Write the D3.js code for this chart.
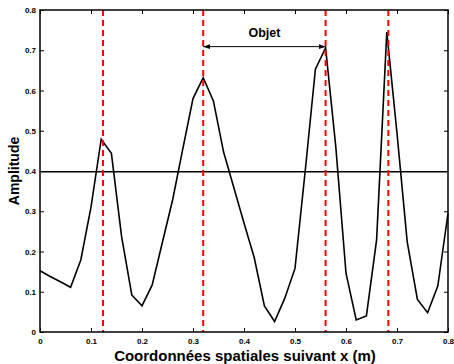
<!DOCTYPE html>
<meta charset="utf-8">
<script src="https://d3js.org/d3.v7.min.js"></script>
<style>
  body { margin: 0; background: #fff; }
  text { font-family: Arial, 'Liberation Sans', sans-serif; font-weight: bold; }
</style>
<div id="chart"></div>
<script>
  // sampled amplitude, one value every 0.02 m
  const xs = d3.range(0, 41).map(i => i * 0.02);
  const amplitude = [0.152, 0.138, 0.125, 0.111, 0.179, 0.31, 0.479, 0.444, 0.237, 0.092,
    0.065, 0.117, 0.223, 0.328, 0.455, 0.58, 0.632, 0.574, 0.447, 0.359,
    0.271, 0.185, 0.065, 0.026, 0.084, 0.158, 0.40, 0.653, 0.706, 0.46,
    0.146, 0.03, 0.04, 0.229, 0.745, 0.494, 0.224, 0.081, 0.048, 0.114, 0.295];
  const peaks = [0.1235, 0.32, 0.56, 0.683];
  const threshold = 0.398;
  const objet = {from: 0.32, to: 0.56, y: 0.709, label: "Objet"};
  const xTicks = [0, 0.1, 0.2, 0.3, 0.4, 0.5, 0.6, 0.7, 0.8];
  const yTicks = [0, 0.1, 0.2, 0.3, 0.4, 0.5, 0.6, 0.7, 0.8];

  const W = 454, H = 364;
  const margin = {top: 10, right: 6, bottom: 32, left: 40};
  const width = W - margin.left - margin.right,
        height = H - margin.top - margin.bottom;

  const svg = d3.select("#chart").append("svg")
      .attr("width", W).attr("height", H);

  svg.append("defs").append("marker")
      .attr("id", "head")
      .attr("viewBox", "0 0 10 10")
      .attr("refX", 10).attr("refY", 5)
      .attr("markerWidth", 7).attr("markerHeight", 7)
      .attr("markerUnits", "userSpaceOnUse")
      .attr("orient", "auto-start-reverse")
      .append("path").attr("d", "M0,1.5L10,5L0,8.5Z").attr("fill", "#000");

  const g = svg.append("g")
      .attr("transform", "translate(" + margin.left + "," + margin.top + ")");

  const x = d3.scaleLinear().domain([0, 0.8]).range([0, width]);
  const y = d3.scaleLinear().domain([0, 0.8]).range([height, 0]);

  // axes with inward ticks, box like matlab
  function styleAxis(sel) {
    sel.select(".domain").remove();
    sel.selectAll(".tick line").attr("stroke", "#000").attr("stroke-width", 1);
    sel.selectAll("text").attr("font-size", 8).attr("fill", "#000");
  }
  g.append("g").attr("transform", "translate(0," + height + ")")
      .call(d3.axisBottom(x).tickValues(xTicks).tickFormat(d3.format("~g")).tickSizeInner(-4).tickPadding(6))
      .call(styleAxis);
  g.append("g")
      .call(d3.axisTop(x).tickValues(xTicks).tickFormat("").tickSizeInner(-4))
      .call(styleAxis);
  g.append("g")
      .call(d3.axisLeft(y).tickValues(yTicks).tickFormat(d3.format("~g")).tickSizeInner(-4).tickPadding(4))
      .call(styleAxis);
  g.append("g").attr("transform", "translate(" + width + ",0)")
      .call(d3.axisRight(y).tickValues(yTicks).tickFormat("").tickSizeInner(-4))
      .call(styleAxis);

  // threshold line
  g.append("line")
      .attr("x1", 0).attr("x2", width)
      .attr("y1", y(threshold)).attr("y2", y(threshold))
      .attr("stroke", "#000").attr("stroke-width", 1.5);

  // signal
  g.append("path")
      .datum(amplitude)
      .attr("fill", "none").attr("stroke", "#000").attr("stroke-width", 1.6)
      .attr("stroke-linejoin", "miter")
      .attr("d", d3.line().x((d, i) => x(xs[i])).y(d => y(d)));

  // peak markers
  g.selectAll(".peak").data(peaks).enter().append("line")
      .attr("x1", d => x(d)).attr("x2", d => x(d))
      .attr("y1", 0).attr("y2", height)
      .attr("stroke", "#ff0000").attr("stroke-width", 2)
      .attr("stroke-dasharray", "6,4");

  // object arrow
  g.append("line")
      .attr("x1", x(objet.from)).attr("x2", x(objet.to))
      .attr("y1", y(objet.y)).attr("y2", y(objet.y))
      .attr("stroke", "#000").attr("stroke-width", 1)
      .attr("marker-start", "url(#head)").attr("marker-end", "url(#head)");
  g.append("text")
      .attr("x", x((objet.from + objet.to) / 2)).attr("y", y(objet.y) - 10)
      .attr("text-anchor", "middle").attr("font-size", 12.5)
      .text(objet.label);

  // frame
  g.append("rect")
      .attr("width", width).attr("height", height)
      .attr("fill", "none").attr("stroke", "#000").attr("stroke-width", 1.5);

  // axis labels
  svg.append("text")
      .attr("x", margin.left + width / 2 + 1).attr("y", H - 3)
      .attr("text-anchor", "middle").attr("font-size", 15)
      .text("Coordonnées spatiales suivant x (m)");
  svg.append("text")
      .attr("transform", "translate(19," + (margin.top + height / 2) + ") rotate(-90)")
      .attr("text-anchor", "middle").attr("font-size", 14)
      .text("Amplitude");
</script>
